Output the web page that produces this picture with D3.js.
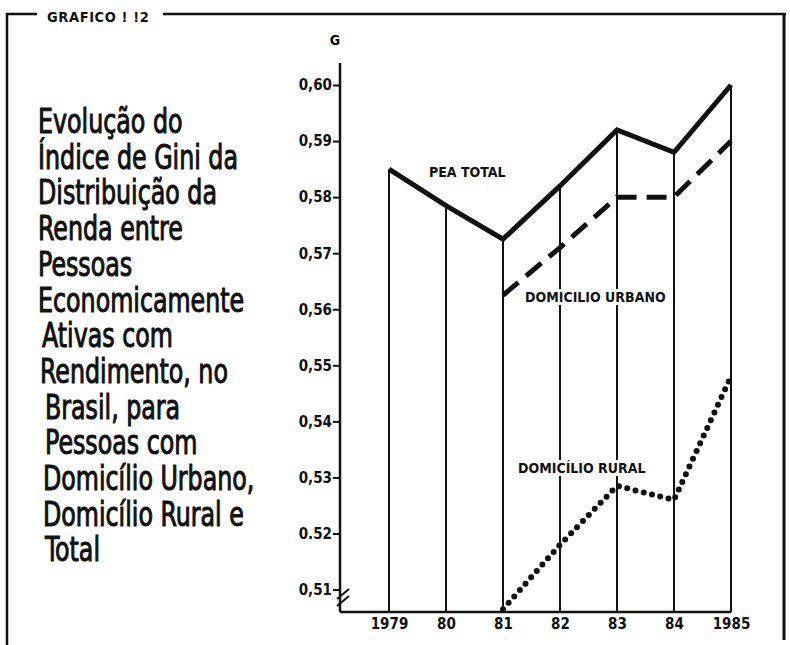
<!DOCTYPE html>
<html>
<head>
<meta charset="utf-8">
<script src="https://cdn.jsdelivr.net/npm/d3@7"></script>
<style>
  body { margin: 0; background: #fff; }
  svg { display: block; background: #fff; }
  .axis text { font-family: 'DejaVu Sans Condensed', 'DejaVu Sans', sans-serif; font-weight: bold; }
</style>
</head>
<body>
<svg width="790" height="645"></svg>
<script>
// data
const years = [1979, 1980, 1981, 1982, 1983, 1984, 1985];
const yearLabels = ['1979', '80', '81', '82', '83', '84', '1985'];
const peaTotal = [0.585, 0.5785, 0.5725, 0.582, 0.592, 0.588, 0.600];
const urbanYears = [1981, 1982, 1983, 1984, 1985];
const urbano = [0.5625, 0.571, 0.580, 0.580, 0.590];
const ruralYears = [1981, 1982, 1983, 1984, 1985];
const rural = [0.5065, 0.518, 0.5285, 0.526, 0.548];
const yTicks = [0.51, 0.52, 0.53, 0.54, 0.55, 0.56, 0.57, 0.58, 0.59, 0.60];
const yTickLabels = ['0,51', '0.52', '0,53', '0,54', '0,55', '0,56', '0,57', '0,58', '0,59', '0,60'];
const titleLines = ['Evolução do', 'Índice  de Gini da', 'Distribuição  da', 'Renda entre', 'Pessoas',
  'Economicamente', 'Ativas com', 'Rendimento, no', 'Brasil,  para', 'Pessoas com',
  'Domicílio Urbano,', 'Domicílio Rural e', 'Total'];
const titleIndent = [0, 0, 0, 0, 0, 0, 4, 2, 7, 7, 5, 5, 7];
const header = 'GRAFICO  !  !2';

let svg = d3.select('svg');

const x = d3.scalePoint().domain(years).range([389, 731]),
    y = d3.scaleLinear().domain([0.506, 0.60]).range([612, 85]);

const axisX = 340,
    baseY = y(0.506);

// frame
const frame = svg.append('g').attr('stroke', '#111').attr('fill', 'none');
frame.append('path').attr('stroke-width', 2.5).attr('d', 'M7,645V14H37');
frame.append('path').attr('stroke-width', 2.5).attr('d', 'M163,14H786');
frame.append('path').attr('stroke-width', 3).attr('d', 'M784,14V640');

svg.append('text')
  .attr('x', 47).attr('y', 22)
  .style('font-family', "'DejaVu Sans Condensed', sans-serif")
  .style('font-weight', 'bold').style('font-size', '14.5px')
  .style('letter-spacing', '0.6px')
  .attr('fill', '#111')
  .text(header);

// title block
const title = svg.append('g')
  .style('font-family', "'DejaVu Sans Condensed', 'DejaVu Sans', sans-serif")
  .style('font-size', '33px')
  .attr('fill', '#111').attr('stroke', '#111').attr('stroke-width', 1);

titleLines.forEach((t, i) => {
  title.append('text')
    .attr('transform', `translate(${38 + titleIndent[i]}, ${133 + i * 35.7}) scale(0.8, 1)`)
    .text(t);
});

// year verticals up to the total line
svg.append('g')
  .selectAll('line')
  .data(years)
  .enter().append('line')
    .attr('x1', (d) => {return x(d)})
    .attr('x2', (d) => {return x(d)})
    .attr('y1', baseY)
    .attr('y2', (d, i) => {return y(peaTotal[i])})
    .attr('stroke', '#111')
    .attr('stroke-width', 2);

// y axis
let gy = svg.append('g')
  .attr('class', 'axis')
  .attr('transform', `translate(${axisX}, 0)`)
  .call(d3.axisLeft(y).tickValues(yTicks).tickSize(7).tickSizeOuter(0)
    .tickFormat((d, i) => {return yTickLabels[i]}));
gy.select('.domain').remove();
gy.selectAll('.tick line').attr('stroke', '#111').attr('stroke-width', 2);
gy.selectAll('.tick text').style('font-size', '15px').attr('fill', '#111').attr('x', -8);

svg.append('line')
  .attr('x1', axisX).attr('x2', axisX)
  .attr('y1', 63).attr('y2', baseY)
  .attr('stroke', '#111').attr('stroke-width', 2.5);

svg.append('text')
  .attr('class', 'axis')
  .attr('x', axisX - 5).attr('y', 45)
  .attr('text-anchor', 'middle')
  .style('font-family', "'DejaVu Sans Condensed', sans-serif")
  .style('font-weight', 'bold').style('font-size', '14px')
  .text('G');

// x axis baseline
let gx = svg.append('g')
  .attr('class', 'axis')
  .attr('transform', `translate(0, ${baseY})`)
  .call(d3.axisBottom(x).tickSize(0).tickPadding(6).tickFormat((d, i) => {return yearLabels[i]}));
gx.select('.domain')
  .attr('d', `M${axisX},0H${x(1985)}`)
  .attr('stroke', '#111').attr('stroke-width', 2.5);
gx.selectAll('.tick text').style('font-size', '15px').attr('fill', '#111');

// axis break marks
svg.append('g')
  .attr('stroke', '#111').attr('stroke-width', 2)
  .selectAll('line')
  .data([0, 7])
  .enter().append('line')
    .attr('x1', (d) => {return axisX - 3})
    .attr('x2', (d) => {return axisX + 9})
    .attr('y1', (d) => {return baseY - 6 - d})
    .attr('y2', (d) => {return baseY - 16 - d});

// series labels with white boxes
const labels = [
  {text: 'PEA TOTAL', x: 429, y: 177, box: false},
  {text: 'DOMICILIO URBANO', x: 525, y: 302, box: true},
  {text: 'DOMICÍLIO RURAL', x: 518, y: 473, box: true}
];
labels.forEach((l) => {
  let g = svg.append('g');
  let t = g.append('text')
    .attr('x', l.x).attr('y', l.y)
    .style('font-family', "'DejaVu Sans Condensed', sans-serif")
    .style('font-weight', 'bold').style('font-size', '14px')
    .attr('fill', '#111')
    .text(l.text);
  if (l.box) {
    let b = t.node().getBBox();
    g.insert('rect', 'text')
      .attr('x', b.x - 2).attr('y', b.y).attr('width', b.width + 4).attr('height', b.height)
      .attr('fill', '#fff');
  }
});

// lines
const line = d3.line()
    .x((d) => {return x(d[0])})
    .y((d) => {return y(d[1])});

svg.append('path')
  .attr('d', line(years.map((d, i) => [d, peaTotal[i]])))
  .attr('fill', 'none').attr('stroke', '#111').attr('stroke-width', 5)
  .attr('stroke-linejoin', 'miter');

svg.append('path')
  .attr('d', line(urbanYears.map((d, i) => [d, urbano[i]])))
  .attr('fill', 'none').attr('stroke', '#111').attr('stroke-width', 5)
  .attr('stroke-dasharray', '20,10');

svg.append('path')
  .attr('d', line(ruralYears.map((d, i) => [d, rural[i]])))
  .attr('fill', 'none').attr('stroke', '#111').attr('stroke-width', 6)
  .attr('stroke-linecap', 'round')
  .attr('stroke-dasharray', '0,8.5');
</script>
</body>
</html>
